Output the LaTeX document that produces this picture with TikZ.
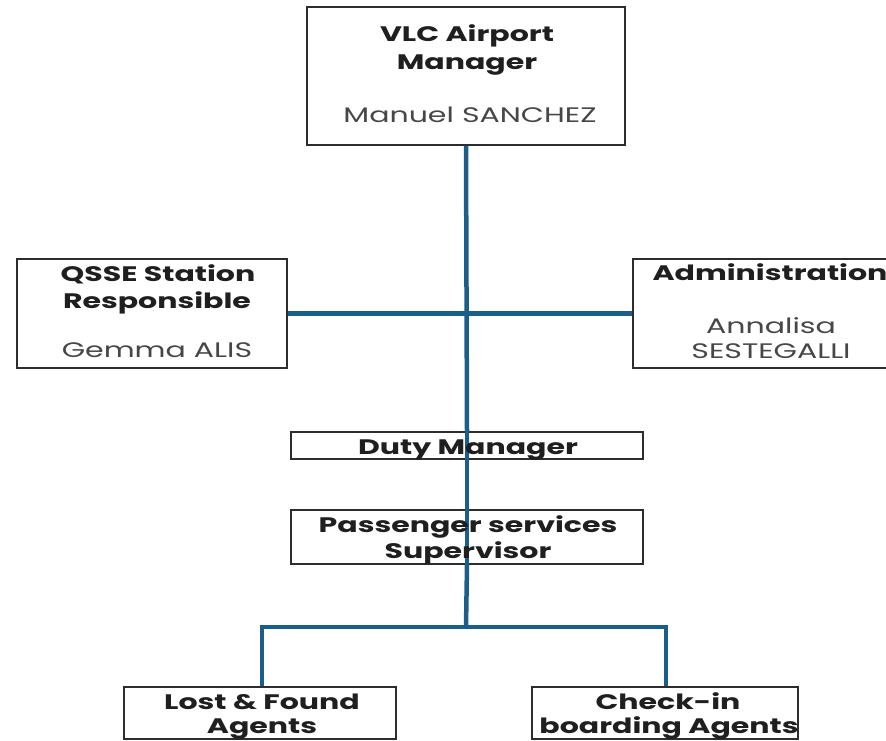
\documentclass[tikz,border=0pt]{standalone}
\usepackage{fontspec}
\setmainfont{Poppins}[FakeStretch=1.43]
\begin{document}
\begin{tikzpicture}[x=1pt,y=-1pt,
  box/.style={draw=boxline, line width=1.8pt, fill=white, inner sep=0pt},
  conn/.style={draw=linkblue, line width=4.5pt},
  head/.style={anchor=base, inner sep=0pt, font=\fontsize{21}{24}\selectfont\bfseries, text=black!88},
  person/.style={anchor=base, inner sep=0pt, font=\fontsize{21}{24}\selectfont, text=black!72}]
\definecolor{boxline}{RGB}{45,45,45}
\definecolor{linkblue}{RGB}{27,94,137}
\useasboundingbox (0,0) rectangle (886,741);
\clip (0,0) rectangle (886,741);

% boxes
\node[box, minimum width=318pt, minimum height=138pt] (top)   at (466,76) {};
\node[box, minimum width=270pt, minimum height=109pt] (qsse)  at (152,313.5) {};
\node[box, minimum width=264pt, minimum height=109pt] (admin) at (765,313.5) {};
\node[box, minimum width=352pt, minimum height=27pt]  (duty)  at (467,445.5) {};
\node[box, minimum width=352pt, minimum height=54pt]  (pass)  at (467,537) {};
\node[box, minimum width=272pt, minimum height=52pt]  (lost)  at (260,713) {};
\node[box, minimum width=266pt, minimum height=52pt]  (check) at (665,713) {};

% connectors
\coordinate (fork) at (466,627);
\draw[conn] (top.south) -- (duty.north);
\draw[conn] (duty.north) -- (pass.north);
\draw[conn] (pass.north) -- (pass.south);
\draw[conn] (pass.south) -- (fork);
\draw[conn] (qsse.east) -- (admin.west);
\draw[conn] (fork) -| ([xshift=2pt]lost.north);
\draw[conn] (fork) -| ([xshift=1pt]check.north);

% texts
\node[head]   (t1) at (467,42)  {VLC Airport};
\node[head]   (t2) at (467,70)  {Manager};
\node[person] (t3) at (470,123) {Manuel SANCHEZ};

\node[head]   (q1) at (158,281) {QSSE Station};
\node[head]   (q2) at (157,308) {Responsible};
\node[person] (q3) at (157,357) {Gemma ALIS};

\node[head]   (a1) at (770,280) {Administration};
\node[person] (a2) at (771,333) {Annalisa};
\node[person] (a3) at (771,358) {SESTEGALLI};

\node[head]   (d1) at (468,454) {Duty Manager};
\node[head]   (p1) at (468,532) {Passenger services};
\node[head]   (p2) at (468,558) {Supervisor};

\node[head]   (l1) at (262,709) {Lost \& Found};
\node[head]   (l2) at (262,733) {Agents};
\node[head]   (c1) at (668,709) {Check-in};
\node[head]   (c2) at (669,733) {boarding Agents};
\end{tikzpicture}
\end{document}
